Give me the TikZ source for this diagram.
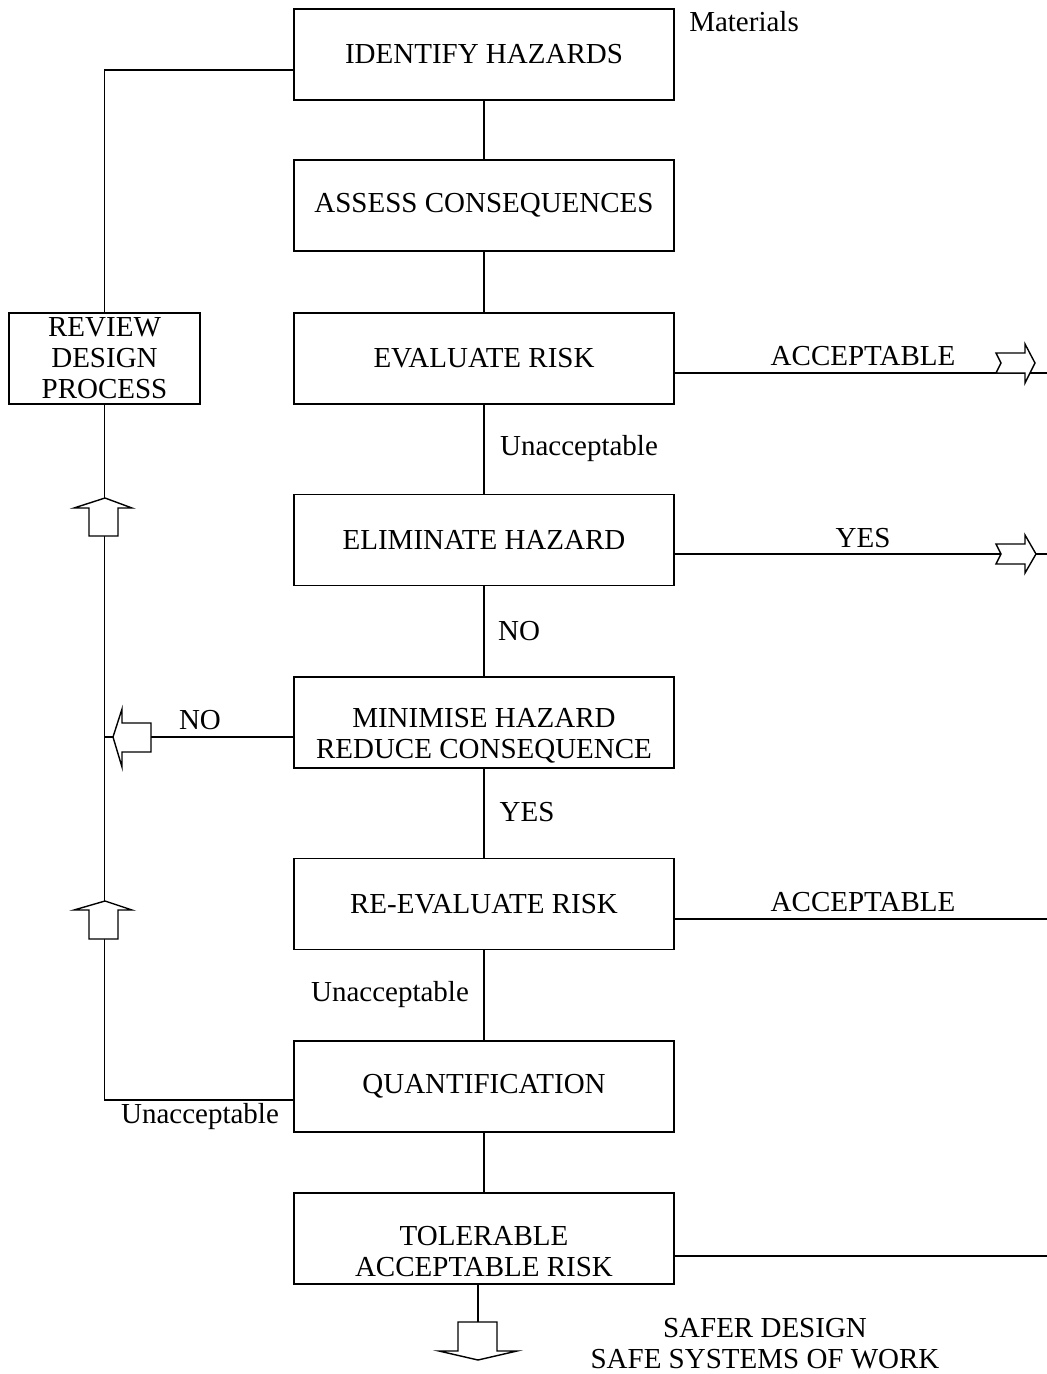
\documentclass[tikz,border=0pt]{standalone}
\usepackage{fontspec}
\setmainfont{Liberation Serif}
\begin{document}
\begin{tikzpicture}[x=1pt,y=-1pt,
  every node/.style={font=\fontsize{29}{31}\selectfont, inner sep=0pt},
  box/.style={draw, line width=1.4pt, minimum width=380pt, minimum height=91pt, align=center},
  lbl/.style={align=center},
  conn/.style={line width=1.4pt},
  barrow/.style={draw, fill=white, line width=1.4pt, line join=miter}]
\useasboundingbox (0,0) rectangle (1047,1374);

% main boxes
\node[box] (id) at (484,54.5) {IDENTIFY HAZARDS};
\node[box] (as) at (484,205.5) {ASSESS CONSEQUENCES};
\node[box] (ev) at (484,358.5) {EVALUATE RISK};
\node[box] (el) at (484,540) {ELIMINATE HAZARD};
\node[box] (mi) at (484,722.5) {};
\node[lbl] (mit) at (484,736) {MINIMISE HAZARD\\REDUCE CONSEQUENCE};
\node[box] (re) at (484,904) {RE-EVALUATE RISK};
\node[box] (qu) at (484,1086.5) {QUANTIFICATION};
\node[box] (to) at (484,1238.5) {};
\node[lbl] (tot) at (484,1252) {TOLERABLE\\ACCEPTABLE RISK};
\node[box, minimum width=191pt] (rv) at (104.5,358.5) {REVIEW\\DESIGN\\PROCESS};

% vertical chain
\draw[conn] (id) -- (as);
\draw[conn] (as) -- (ev);
\draw[conn] (ev) -- (el);
\draw[conn] (el) -- (mi);
\draw[conn] (mi) -- (re);
\draw[conn] (re) -- (qu);
\draw[conn] (qu) -- (to);

% left loop
\draw[conn] (rv.north) |- ([yshift=-15.5pt]id.west);
\draw[conn] (rv.south) |- ([yshift=-13.5pt]qu.west);
\coordinate (mil) at (105,737);
\draw[conn] ([yshift=-14.5pt]mi.west) -- (mil);

% right exits
\coordinate (r1) at (1047,373);
\coordinate (r2) at (1047,554);
\coordinate (r3) at (1047,919);
\coordinate (r4) at (1047,1256);
\draw[conn] ([yshift=-14.5pt]ev.east) -- (r1);
\draw[conn] ([yshift=-14pt]el.east) -- (r2);
\draw[conn] ([yshift=-15pt]re.east) -- (r3);
\draw[conn] ([yshift=-17.5pt]to.east) -- (r4);

% bottom stem
\coordinate (dstem) at (478,1322);
\draw[conn] ([xshift=-6pt]to.south) -- (dstem);

% block arrows
\draw[barrow] (105,498) -- (132,508) -- (118,508) -- (118,536) -- (89,536) -- (89,508) -- (74,508) -- cycle;
\draw[barrow] (105,901) -- (132,910) -- (118,910) -- (118,939) -- (89,939) -- (89,910) -- (74,910) -- cycle;
\draw[barrow] (113,737) -- (122,709) -- (122,723) -- (151,723) -- (151,752) -- (122,752) -- (122,767) -- cycle;
\draw[barrow] (996,353) -- (1025,353) -- (1025,344) -- (1035,363) -- (1025,383) -- (1025,373) -- (996,373) -- (1001,363) -- cycle;
\draw[barrow] (996,544) -- (1025,544) -- (1025,535) -- (1036,554) -- (1025,573) -- (1025,564) -- (996,564) -- (1001,554) -- cycle;
\draw[barrow] (458,1322) -- (497,1322) -- (497,1351) -- (517,1351) -- (478,1360) -- (439,1351) -- (458,1351) -- cycle;

% labels
\node[lbl] (mat) at (744,22) {Materials};
\node[lbl] (acc1) at (863,356) {ACCEPTABLE};
\node[lbl] (yes1) at (863,538) {YES};
\node[lbl] (acc2) at (863,902) {ACCEPTABLE};
\node[lbl] (un1) at (579,449) {Unacceptable};
\node[lbl] (no1) at (519,631) {NO};
\node[lbl] (no2) at (200,720) {NO};
\node[lbl] (yes2) at (527,812) {YES};
\node[lbl] (un2) at (390,995) {Unacceptable};
\node[lbl] (un3) at (200,1117) {Unacceptable};
\node[lbl] (safe) at (765,1344) {SAFER DESIGN\\SAFE SYSTEMS OF WORK};
\end{tikzpicture}
\end{document}
